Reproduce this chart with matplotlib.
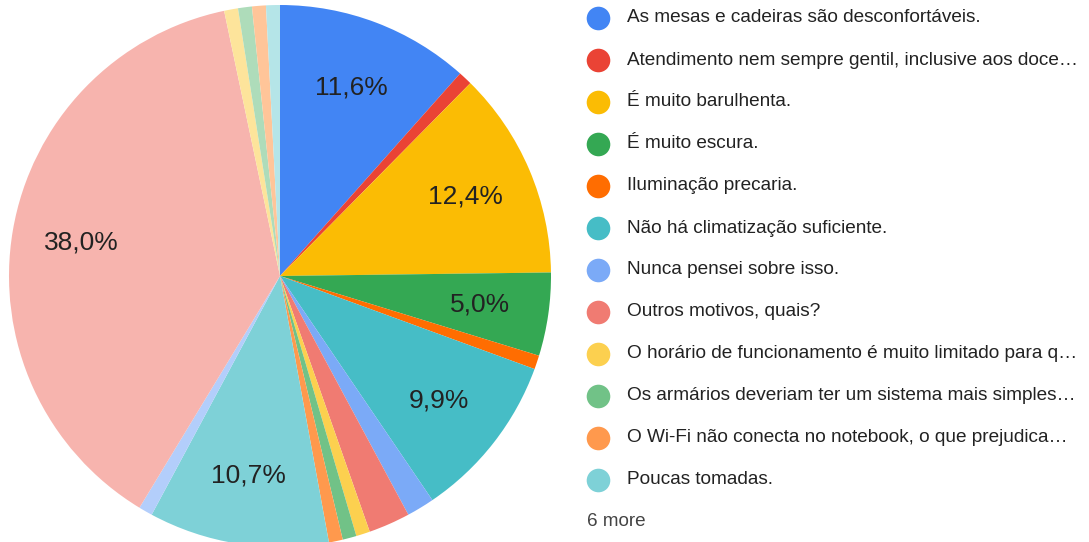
import matplotlib.pyplot as plt
from matplotlib.lines import Line2D

plt.rcParams['font.family'] = ['Liberation Sans', 'DejaVu Sans']

# answer counts (out of 121 responses), clockwise from 12 o'clock
labels = [
    'As mesas e cadeiras são desconfortáveis.',
    'Atendimento nem sempre gentil, inclusive aos doce…',
    'É muito barulhenta.',
    'É muito escura.',
    'Iluminação precaria.',
    'Não há climatização suficiente.',
    'Nunca pensei sobre isso.',
    'Outros motivos, quais?',
    'O horário de funcionamento é muito limitado para q…',
    'Os armários deveriam ter um sistema mais simples…',
    'O Wi-Fi não conecta no notebook, o que prejudica…',
    'Poucas tomadas.',
]
counts = [14, 1, 15, 6, 1, 12, 2, 3, 1, 1, 1, 13]
# the six answers hidden behind "6 more"
more_counts = [1, 46, 1, 1, 1, 1]

colors = ['#4285f4', '#ea4335', '#fbbc04', '#34a853', '#ff6d01', '#46bdc6',
          '#7baaf7', '#f07b72', '#fcd04f', '#71c287', '#ff994d', '#7ed1d7',
          '#b3cefb', '#f7b4ae', '#fde49b', '#aedcba', '#ffc599', '#b5e5e8']

values = counts + more_counts

W, H = 1089, 542
fig = plt.figure(figsize=(W / 100, H / 100), dpi=100)

cx, cy, r = 280, 276, 271
ax = fig.add_axes([(cx - r) / W, (H - cy - r) / H, 2 * r / W, 2 * r / H])


def fmt(p):
    if p < 4.5:
        return ''
    return '{:.1f}%'.format(p).replace('.', ',')


wedges, texts, autotexts = ax.pie(
    values, colors=colors, startangle=90, counterclock=False,
    autopct=fmt, pctdistance=0.745, radius=1,
    wedgeprops=dict(linewidth=0),
    textprops=dict(fontsize=19, color='#222222'))
ax.set_xlim(-1, 1)
ax.set_ylim(-1, 1)
ax.set_aspect('equal')
ax.axis('off')

# legend
y0 = 18
step = 42
for i, lab in enumerate(labels):
    y = 1 - (y0 + i * step) / H
    fig.add_artist(Line2D([598 / W], [y], marker='o', markersize=17,
                          markerfacecolor=colors[i], markeredgewidth=0,
                          linestyle='none', transform=fig.transFigure))
    fig.text(627 / W, y, lab, fontsize=13.7, color='#222222',
             va='center', ha='left')
fig.text(587 / W, 1 - 522 / H, '{} more'.format(len(more_counts)),
         fontsize=13.6, color='#444444', va='center', ha='left')

fig.savefig('out.png', dpi=100)
